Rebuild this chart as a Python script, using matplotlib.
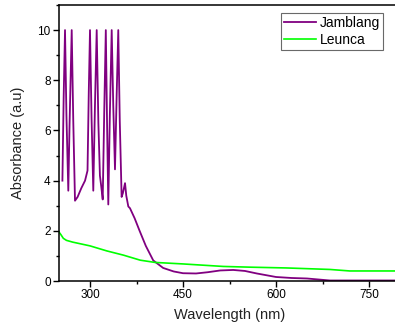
import matplotlib.pyplot as plt
from matplotlib.ticker import MultipleLocator

plt.rcParams['font.family'] = ['Liberation Sans', 'DejaVu Sans']

# Jamblang spectrum (wavelength nm, absorbance)
jamblang_wl = [255.5, 257.5, 259.7, 262, 265,
               267, 270.5, 273, 275.8,
               280, 286, 292, 296, 298, 300, 302.5, 305.3,
               308, 310.8, 313.5, 316, 318, 320.5,
               323, 325.5, 327.5, 329.5,
               332, 335, 337.5, 340.3,
               343, 345.6, 348, 351,
               353, 356.5, 358.5, 361.8, 364.5, 372, 380, 390, 402, 418,
               435, 450, 471, 490, 510, 531, 550, 569, 600, 625, 650, 687, 730, 800]
jamblang_abs = [4.0, 7.3, 10.0, 6.6, 3.6,
                6.2, 10.0, 6.4, 3.2,
                3.35, 3.7, 4.0, 4.4, 7.5, 10.0, 6.5, 3.6,
                7.0, 10.0, 6.3, 4.2, 3.8, 3.25,
                6.8, 10.0, 6.3, 3.05,
                6.6, 10.0, 7.0, 4.45,
                7.4, 10.0, 6.4, 3.35,
                3.5, 3.9, 3.4, 2.97, 2.9, 2.5, 2.0, 1.4, 0.82, 0.52,
                0.38, 0.31, 0.30, 0.35, 0.42, 0.44, 0.40, 0.30, 0.16, 0.12, 0.10, 0.02, 0.02, 0.02]

# Leunca spectrum
leunca_wl = [250, 253, 257, 262, 272, 300, 327, 354, 381, 405, 450, 515, 560, 617, 687, 719, 800]
leunca_abs = [1.95, 1.85, 1.70, 1.62, 1.55, 1.40, 1.20, 1.03, 0.83, 0.74, 0.68, 0.58, 0.55,
              0.52, 0.46, 0.40, 0.40]

fig = plt.figure(figsize=(3.95, 3.31), dpi=100)
ax = fig.add_axes([59 / 395, 50 / 331, 341 / 395, 276 / 331])

ax.plot(jamblang_wl, jamblang_abs, color='#800080', lw=1.3, label='Jamblang')
ax.plot(leunca_wl, leunca_abs, color='#00ff00', lw=1.2, label='Leunca')

ax.set_xlim(250, 800)
ax.set_ylim(0, 11)
ax.xaxis.set_major_locator(MultipleLocator(150))
ax.xaxis.set_minor_locator(MultipleLocator(75))
ax.yaxis.set_major_locator(MultipleLocator(2))
ax.yaxis.set_minor_locator(MultipleLocator(1))
ax.tick_params(which='major', direction='out', length=4, width=1, labelsize=8.5, pad=2)
ax.tick_params(which='minor', direction='out', length=2.5, width=1)

for s in ax.spines.values():
    s.set_linewidth(1.1)

ax.set_xlabel('Wavelength (nm)', fontsize=10.5, labelpad=5, color='#222222')
ax.set_ylabel('Absorbance (a.u)', fontsize=10.5, labelpad=9, color='#222222')

leg = ax.legend(loc='upper left', bbox_to_anchor=(222 / 341, 0.972), fontsize=10,
                frameon=True, fancybox=False, edgecolor='#444444', handlelength=2.3,
                handletextpad=0.3, borderpad=0.2, labelspacing=0.27, borderaxespad=0)
leg.get_frame().set_linewidth(0.8)

fig.savefig('out.png', dpi=100)
